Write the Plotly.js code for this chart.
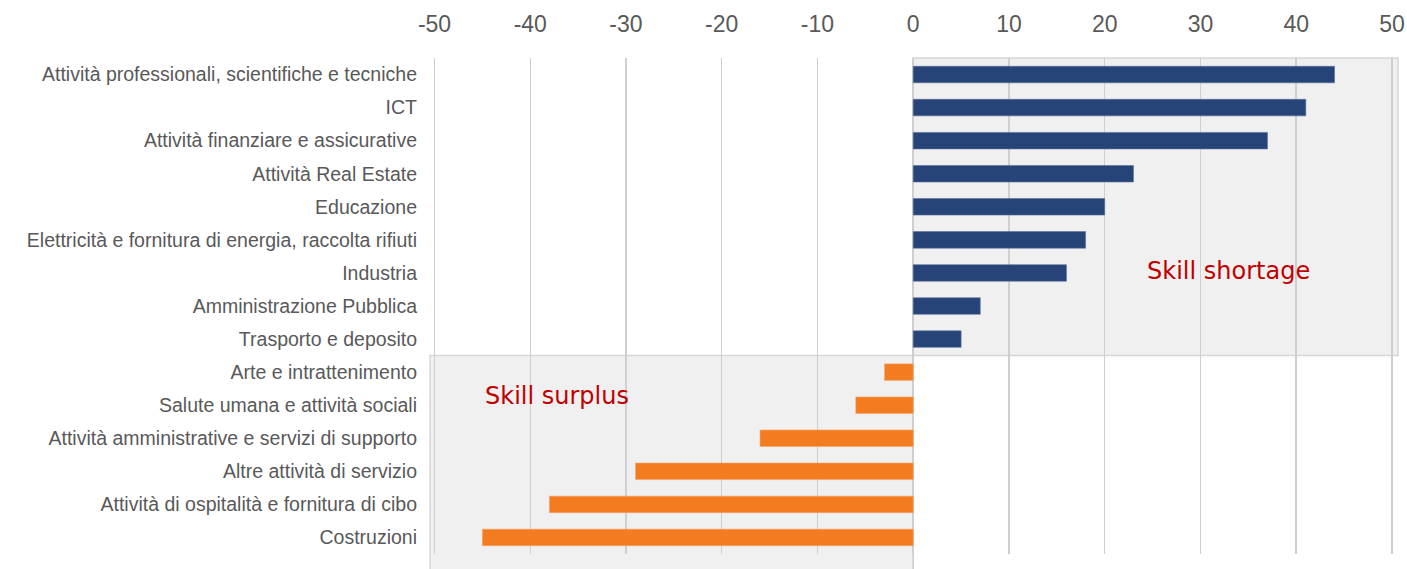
<!DOCTYPE html>
<html>
<head>
<meta charset="utf-8">
<script src="https://cdn.plot.ly/plotly-3.0.1.min.js"></script>
<style>
html,body{margin:0;padding:0;background:#fff;}
#chart{width:1407px;height:569px;}
</style>
</head>
<body>
<div id="chart"></div>
<script>
const shortageSectors = [
  "Attività professionali, scientifiche e tecniche",
  "ICT",
  "Attività finanziare e assicurative",
  "Attività Real Estate",
  "Educazione",
  "Elettricità e fornitura di energia, raccolta rifiuti",
  "Industria",
  "Amministrazione Pubblica",
  "Trasporto e deposito"
];
const shortageValues = [44, 41, 37, 23, 20, 18, 16, 7, 5];

const surplusSectors = [
  "Arte e intrattenimento",
  "Salute umana e attività sociali",
  "Attività amministrative e servizi di supporto",
  "Altre attività di servizio",
  "Attività di ospitalità e fornitura di cibo",
  "Costruzioni"
];
const surplusValues = [-3, -6, -16, -29, -38, -45];

const xTicks = [-50, -40, -30, -20, -10, 0, 10, 20, 30, 40, 50];
const annotationTexts = ["Skill shortage", "Skill surplus"];

const allSectors = shortageSectors.concat(surplusSectors);
const nRows = allSectors.length;
const xr = [-50.47, 50.63];
const xFrac = v => (v - xr[0]) / (xr[1] - xr[0]);
const splitFrac = surplusSectors.length / nRows;

const traces = [
  {type: 'bar', orientation: 'h', y: shortageSectors, x: shortageValues,
   width: 0.5, marker: {color: '#264478', line: {color: '#5b6f99', width: 0.6}},
   hoverinfo: 'x+y'},
  {type: 'bar', orientation: 'h', y: surplusSectors, x: surplusValues,
   width: 0.5, marker: {color: '#F37B20', line: {color: '#f7a46a', width: 0.6}},
   hoverinfo: 'x+y'}
];

const layout = {
  width: 1407, height: 569,
  margin: {l: 430, r: 9, t: 58, b: 15},
  paper_bgcolor: '#ffffff',
  plot_bgcolor: 'rgba(0,0,0,0)',
  showlegend: false,
  barmode: 'overlay',
  xaxis: {
    side: 'top',
    range: xr,
    tickmode: 'array',
    tickvals: xTicks,
    ticktext: xTicks.map(String),
    showgrid: true,
    gridcolor: '#cfcfcf',
    gridwidth: 1.5,
    zeroline: false,
    showline: false,
    ticks: '',
    ticklabelstandoff: 20,
    tickfont: {family: 'Liberation Sans, Arial, sans-serif', size: 23, color: '#595959'}
  },
  yaxis: {
    type: 'category',
    categoryorder: 'array',
    categoryarray: allSectors,
    range: [nRows - 0.5, -0.5],
    showgrid: false,
    zeroline: false,
    showline: false,
    ticks: '',
    ticklabelstandoff: 12,
    tickfont: {family: 'Liberation Sans, Arial, sans-serif', size: 19.5, color: '#595959'}
  },
  shapes: [
    {type: 'rect', layer: 'below', xref: 'paper', yref: 'paper',
     x0: xFrac(0), x1: 1, y0: splitFrac, y1: 1,
     fillcolor: '#f0f0f0', line: {color: '#d6d6d6', width: 1.5}},
    {type: 'rect', layer: 'below', xref: 'paper', yref: 'paper',
     x0: 0, x1: xFrac(0), y0: -0.04, y1: splitFrac,
     fillcolor: '#f0f0f0', line: {color: '#d6d6d6', width: 1.5}},
    {type: 'line', layer: 'below', xref: 'x', yref: 'paper',
     x0: 0, x1: 0, y0: -0.04, y1: 1,
     line: {color: '#cfcfcf', width: 1.5}}
  ],
  annotations: [
    {text: annotationTexts[0], xref: 'x', yref: 'y', x: 32.9, y: allSectors[6],
     yshift: 2,
     showarrow: false, xanchor: 'center', yanchor: 'middle',
     font: {family: 'DejaVu Sans, Verdana, sans-serif', size: 24, color: '#C00000'}},
    {text: annotationTexts[1], xref: 'x', yref: 'y', x: -37.2, y: allSectors[10],
     yshift: 9,
     showarrow: false, xanchor: 'center', yanchor: 'middle',
     font: {family: 'DejaVu Sans, Verdana, sans-serif', size: 24, color: '#C00000'}}
  ]
};

Plotly.newPlot('chart', traces, layout, {displayModeBar: false, staticPlot: true});
</script>
</body>
</html>
